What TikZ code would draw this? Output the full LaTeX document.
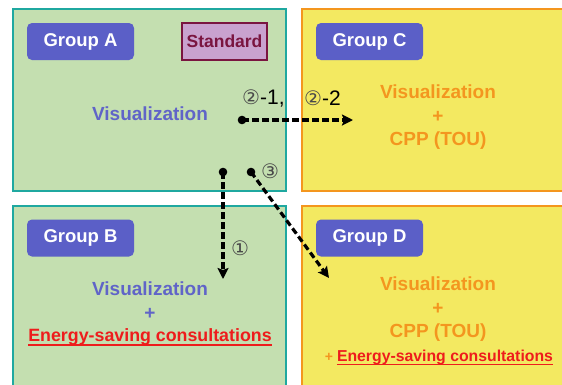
\documentclass[tikz,border=0pt]{standalone}
\usepackage{fontspec}
\setmainfont{Liberation Sans}
\newfontfamily\djv{DejaVu Sans}
\usetikzlibrary{arrows.meta,calc}
\definecolor{gfill}{HTML}{C4DFB0}
\definecolor{gline}{HTML}{1FA8A0}
\definecolor{yfill}{HTML}{F3E961}
\definecolor{yline}{HTML}{F4961E}
\definecolor{lbl}{HTML}{5B5FC7}
\definecolor{vis}{HTML}{6064C8}
\definecolor{org}{HTML}{F3961F}
\definecolor{rd}{HTML}{EE1C1C}
\definecolor{stdfill}{HTML}{C9A2CF}
\definecolor{stdline}{HTML}{7A1540}
\definecolor{numc}{HTML}{4A4A4A}
\tikzset{
  gbox/.style={draw=gline, fill=gfill, line width=2.4pt, minimum width=273pt, minimum height=182pt, inner sep=0pt},
  ybox/.style={draw=yline, fill=yfill, line width=2.4pt, minimum width=273pt, minimum height=182pt, inner sep=0pt},
  glabel/.style={fill=lbl, rounded corners=5pt, text=white, minimum width=107pt, minimum height=37pt, inner sep=0pt, font=\fontsize{18.5}{20}\selectfont\bfseries},
  stdbox/.style={draw=stdline, fill=stdfill, line width=1.2pt, text=stdline, minimum width=85pt, minimum height=37pt, inner sep=0pt, font=\fontsize{17.5}{19}\selectfont\bfseries},
  vtxt/.style={text=vis, inner sep=0pt, font=\fontsize{19}{21}\selectfont\bfseries},
  otxt/.style={text=org, inner sep=0pt, font=\fontsize{19}{21}\selectfont\bfseries},
  etxt/.style={text=rd, inner sep=0pt, font=\fontsize{17.8}{20}\selectfont\bfseries},
  dashline/.style={line width=3.2pt, dash pattern=on 6.5pt off 3.5pt, -{Stealth[length=11pt,width=11pt,inset=2pt]}},
  numlbl/.style={inner sep=0pt, font=\fontsize{21}{23}\selectfont},
  circnum/.style={inner sep=0pt, text=numc, font=\djv\fontsize{20}{22}\selectfont},
}
\begin{document}
\begin{tikzpicture}[x=1pt,y=-1pt]
\useasboundingbox (0,0) rectangle (562,384);
\clip (0,0) rectangle (562,384);
\fill[white] (0,0) rectangle (562,384);
% boxes
\node[gbox] (A) at (149.5,100) {};
\node[ybox] (C) at (438.5,100) {};
\node[gbox] (B) at (149.5,297) {};
\node[ybox] (D) at (438.5,297) {};
% group labels
\node[glabel] (gA) at (80.5,41.5) {Group A};
\node[stdbox] (std) at (224.5,41.5) {Standard};
\node[glabel] (gC) at (369.5,41.5) {Group C};
\node[glabel] (gB) at (80.5,238) {Group B};
\node[glabel] (gD) at (369.5,238) {Group D};
% texts A
\node[vtxt] (vA) at (150,114) {Visualization};
% texts B
\node[vtxt] (vB) at (150,289) {Visualization};
\node[vtxt] (pB) at (150,314) {+};
\node[etxt] (eB) at (150,337) {Energy-saving consultations};
\draw[rd, line width=1.4pt] ($(eB.base west)+(0,3.5)$) -- ($(eB.base east)+(0,3.5)$);
% texts C
\node[otxt] (vC) at (438,92) {Visualization};
\node[otxt] (pC) at (438,117) {+};
\node[otxt] (cC) at (438,141) {CPP (TOU)};
% texts D
\node[otxt] (vD) at (438,284) {Visualization};
\node[otxt] (pD) at (438,309) {+};
\node[otxt] (cD) at (438,333) {CPP (TOU)};
\node[text=org, inner sep=0pt, font=\fontsize{14}{16}\selectfont\bfseries] (pD2) at (329,357) {+};
\node[etxt, font=\fontsize{15.8}{18}\selectfont\bfseries] (eD) at (445,357) {Energy-saving consultations};
\draw[rd, line width=1.4pt] ($(eD.base west)+(0,3.2)$) -- ($(eD.base east)+(0,3.2)$);
% connectors
\coordinate (d2) at (242,120); \coordinate (e2) at (353,120);
\coordinate (d1) at (223,172); \coordinate (e1) at (223,279);
\coordinate (d3) at (251,172); \coordinate (e3) at (329,278);
\fill (d2) circle (4.3pt);
\fill (d1) circle (4.3pt);
\fill (d3) circle (4.3pt);
\draw[dashline] (d2) -- (e2);
\draw[dashline] (d1) -- (e1);
\draw[dashline] (d3) -- (e3);
% number labels
\node[numlbl, anchor=west] (n21) at (242,98) {{\djv\fontsize{20}{22}\selectfont\color{numc}②}-1,};
\node[numlbl, anchor=west] (n22) at (304,98) {{\djv\fontsize{20}{22}\selectfont\color{numc}②}-2};
\node[circnum] (n1) at (240,248) {①};
\node[circnum] (n3) at (270,171) {③};
\end{tikzpicture}
\end{document}
